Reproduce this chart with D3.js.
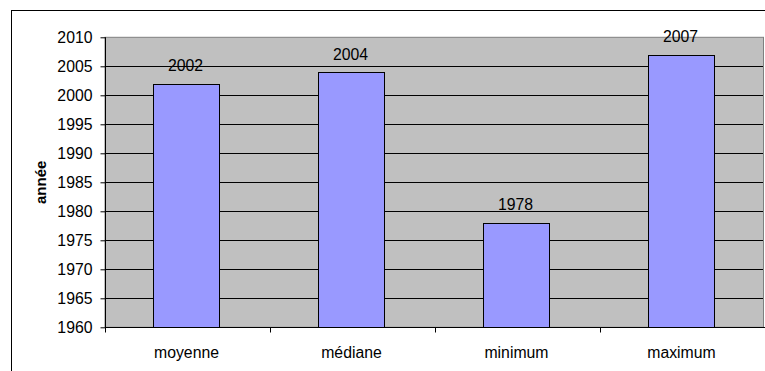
<!DOCTYPE html>
<html>
<head>
<meta charset="utf-8">
<script src="https://cdn.jsdelivr.net/npm/d3@7"></script>
<style>
  html, body { margin: 0; padding: 0; background: #fff; }
  svg { display: block; font-family: Arial, "Liberation Sans", sans-serif; }
</style>
</head>
<body>
<svg id="chart" width="765" height="371"></svg>
<script>
// Statistics of the year (année)
const categories = ["moyenne", "médiane", "minimum", "maximum"];
const values = [2002, 2004, 1978, 2007];
const yTicks = [1960, 1965, 1970, 1975, 1980, 1985, 1990, 1995, 2000, 2005, 2010];
const yLabel = "année";

const svg = d3.select("#chart");
const plot = { left: 105, right: 765, top: 37.3, bottom: 327.3 };
const fontSize = 15.8;

// Outer frame of the chart
svg.append("rect")
  .attr("x", 11.5).attr("y", 10.5)
  .attr("width", 800).attr("height", 400)
  .attr("fill", "#fff").attr("stroke", "#000").attr("stroke-width", 1);

const x = d3.scaleBand().domain(categories).range([plot.left, plot.right]).paddingInner(0.6).paddingOuter(0.3);
const xBand = d3.scaleBand().domain(categories).range([plot.left, plot.right]);
const y = d3.scaleLinear().domain([1960, 2010]).range([plot.bottom, plot.top]);

// Plot area background
svg.append("rect")
  .attr("x", plot.left).attr("y", plot.top)
  .attr("width", plot.right - plot.left - 1.5).attr("height", plot.bottom - plot.top)
  .attr("fill", "#c0c0c0").attr("stroke", "#808080").attr("stroke-width", 1);

// Horizontal gridlines
svg.append("g")
  .selectAll("line")
  .data(yTicks.slice(1, -1))
  .join("line")
  .attr("x1", plot.left).attr("x2", plot.right - 2)
  .attr("y1", d => Math.round(y(d)) + 0.5).attr("y2", d => Math.round(y(d)) + 0.5)
  .attr("stroke", "#000").attr("stroke-width", 1);

// Bars
svg.append("g")
  .selectAll("rect")
  .data(categories)
  .join("rect")
  .attr("x", d => Math.floor(x(d)) - 0.5)
  .attr("y", (d, i) => Math.round(y(values[i])) + 0.5)
  .attr("width", Math.round(x.bandwidth()))
  .attr("height", (d, i) => Math.round(y(1960)) - Math.round(y(values[i])))
  .attr("fill", "#9999ff").attr("stroke", "#000").attr("stroke-width", 1);

// Value labels
svg.append("g")
  .selectAll("text")
  .data(categories)
  .join("text")
  .attr("x", d => x(d) + x.bandwidth() / 2 - 2)
  .attr("y", (d, i) => y(values[i]) - 12.5)
  .attr("text-anchor", "middle")
  .attr("font-size", fontSize)
  .attr("fill", "#000")
  .text((d, i) => values[i]);

// Y axis
const yAxis = svg.append("g")
  .attr("transform", `translate(${plot.left + 0.5},0)`)
  .call(d3.axisLeft(y).tickValues(yTicks).tickFormat(d3.format("d")).tickSize(5).tickPadding(8));
yAxis.select(".domain").attr("stroke", "#000").attr("d", `M0,${plot.top}V${plot.bottom}`);
yAxis.selectAll(".tick line").attr("stroke", "#000");
yAxis.selectAll(".tick text").attr("font-size", fontSize).attr("fill", "#000").attr("font-family", "Arial, 'Liberation Sans', sans-serif");

// X axis
const xAxis = svg.append("g")
  .attr("transform", `translate(0,${Math.round(plot.bottom) + 0.5})`);
xAxis.append("line")
  .attr("x1", plot.left).attr("x2", plot.right)
  .attr("stroke", "#000");
xAxis.selectAll("line.tick")
  .data(categories.concat(["_end"]))
  .join("line")
  .attr("class", "tick")
  .attr("x1", (d, i) => Math.round(plot.left + i * xBand.bandwidth()) + 0.5)
  .attr("x2", (d, i) => Math.round(plot.left + i * xBand.bandwidth()) + 0.5)
  .attr("y1", 0).attr("y2", 5)
  .attr("stroke", "#000");
xAxis.selectAll("text")
  .data(categories)
  .join("text")
  .attr("x", d => xBand(d) + xBand.bandwidth() / 2 - 1)
  .attr("y", 30)
  .attr("text-anchor", "middle")
  .attr("font-size", fontSize)
  .attr("fill", "#000")
  .text(d => d);

// Y axis title
svg.append("text")
  .attr("transform", `translate(46,${(plot.top + plot.bottom) / 2}) rotate(-90)`)
  .attr("text-anchor", "middle")
  .attr("font-size", 15)
  .attr("font-weight", "bold")
  .attr("fill", "#000")
  .text(yLabel);
</script>
</body>
</html>
